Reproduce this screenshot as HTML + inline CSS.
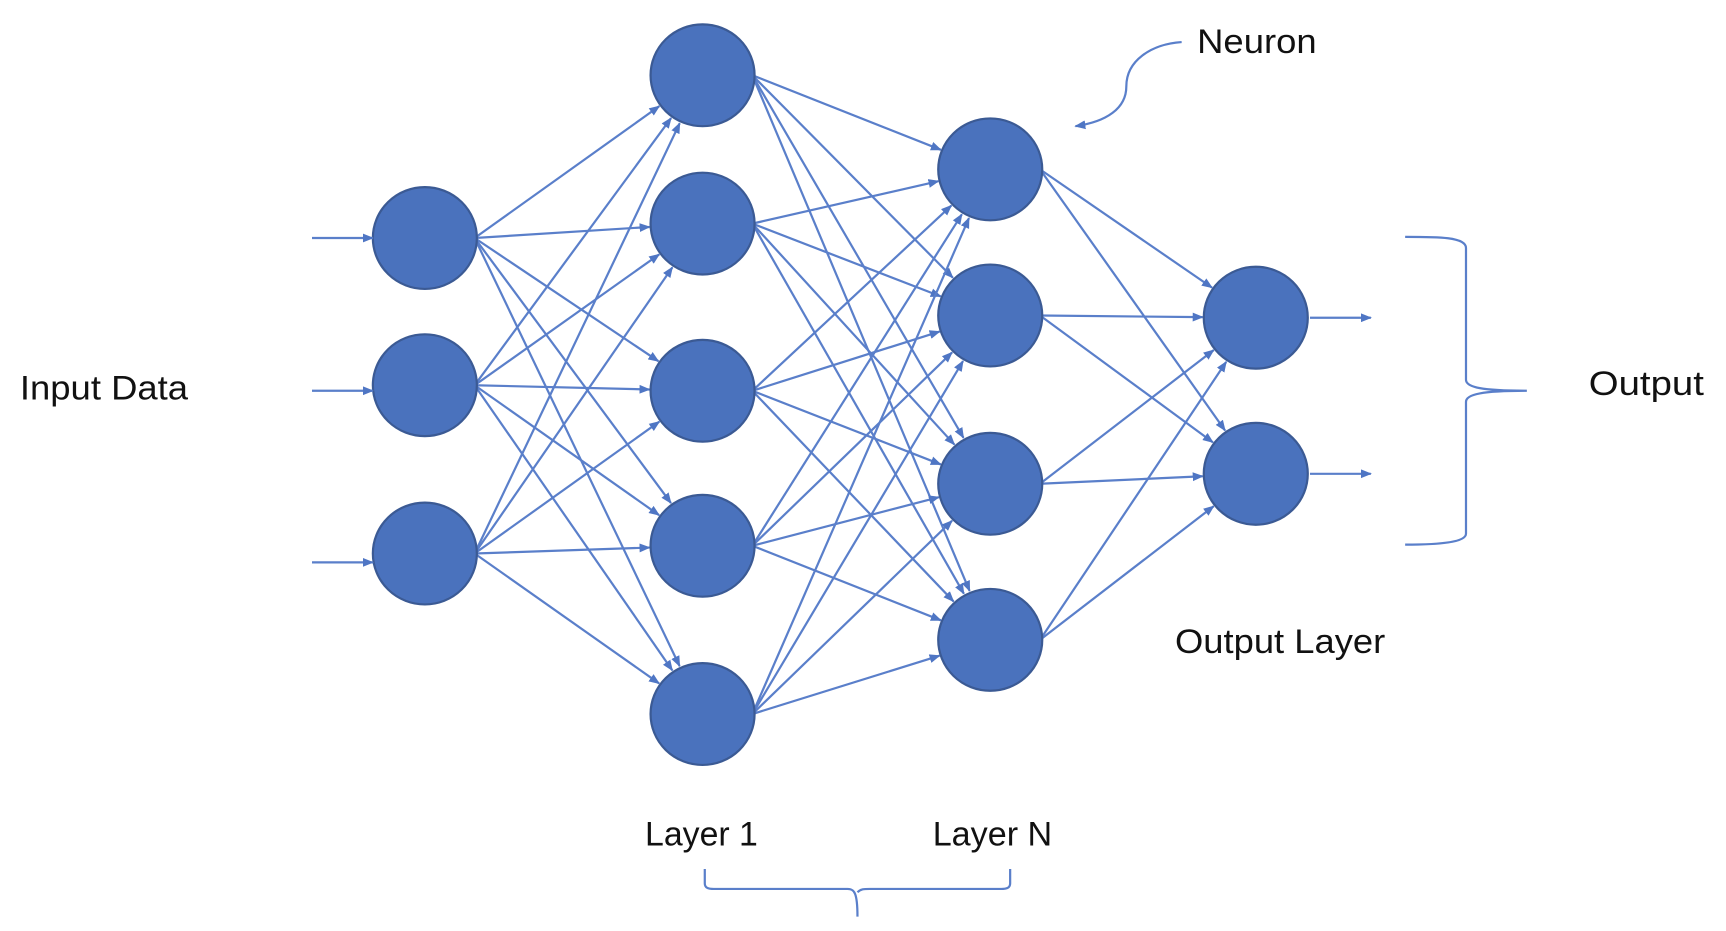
<!DOCTYPE html>
<html><head><meta charset="utf-8"><style>
html,body{margin:0;padding:0;background:#fff;}
svg{display:block;}
text{font-family:"Liberation Sans",sans-serif;font-size:31px;fill:#111;}
</style></head><body>
<svg id="s" width="1726" height="931" viewBox="0 0 1560 841" preserveAspectRatio="none" xmlns="http://www.w3.org/2000/svg">
<defs><marker id="a" markerWidth="10" markerHeight="10" refX="9" refY="5" orient="auto" markerUnits="userSpaceOnUse"><path d="M0,1 L10,5 L0,9 z" fill="#4f76c4"/></marker></defs>
<g id="edges" stroke="#5a7fca" stroke-width="2" fill="none"></g>
<g id="nodes" fill="#4a72bd" stroke="#3b5a94" stroke-width="2"></g>
<g stroke="#5a7fca" stroke-width="2" fill="none">
<line x1="282" y1="215" x2="337" y2="215" marker-end="url(#a)"/>
<line x1="282" y1="353" x2="337" y2="353" marker-end="url(#a)"/>
<line x1="282" y1="508" x2="337" y2="508" marker-end="url(#a)"/>
<line x1="1184" y1="287" x2="1239" y2="287" marker-end="url(#a)"/>
<line x1="1184" y1="428" x2="1239" y2="428" marker-end="url(#a)"/>
<path d="M1270,214 C1300,214 1325,214 1325,224 L1325,343 C1325,350 1340,353 1380,353 C1340,353 1325,356 1325,363 L1325,482 C1325,490 1300,492 1270,492"/>
<path d="M637,785 L637,798 C637,802 640,803 645,803 L766,803 C772,803 775,806 775,828 M775,806 C778,803 781,803 786,803 L905,803 C910,803 913,802 913,798 L913,785"/>
<path d="M1068,38 C1040,40 1018,55 1018,78 C1018,98 1000,110 972,114" marker-end="url(#a)"/>
</g>
<text x="18" y="361" textLength="152" lengthAdjust="spacingAndGlyphs">Input Data</text>
<text x="1082" y="48" textLength="108" lengthAdjust="spacingAndGlyphs">Neuron</text>
<text x="1436" y="357" textLength="104" lengthAdjust="spacingAndGlyphs">Output</text>
<text x="1062" y="590" textLength="190" lengthAdjust="spacingAndGlyphs">Output Layer</text>
<text x="583" y="764" textLength="102" lengthAdjust="spacingAndGlyphs">Layer 1</text>
<text x="843" y="764" textLength="108" lengthAdjust="spacingAndGlyphs">Layer N</text>
</svg>
<script>
var L=[[[384,215],[384,348],[384,500]],[[635,68],[635,202],[635,353],[635,493],[635,645]],[[895,153],[895,285],[895,437],[895,578]],[[1135,287],[1135,428]]];
var R=47,NS="http://www.w3.org/2000/svg";
var eg=document.getElementById('edges'),ng=document.getElementById('nodes');
for(var l=0;l<3;l++)for(var i=0;i<L[l].length;i++)for(var j=0;j<L[l+1].length;j++){
var s=L[l][i],t=L[l+1][j];
var x1=s[0]+R-2,y1=s[1];var dx=t[0]-x1,dy=t[1]-y1,d=Math.sqrt(dx*dx+dy*dy);
var x2=t[0]-dx/d*(R+1),y2=t[1]-dy/d*(R+1);
var e=document.createElementNS(NS,'line');e.setAttribute('x1',x1);e.setAttribute('y1',y1);e.setAttribute('x2',x2);e.setAttribute('y2',y2);e.setAttribute('marker-end','url(#a)');eg.appendChild(e);}
L.forEach(function(c){c.forEach(function(p){var e=document.createElementNS(NS,'ellipse');e.setAttribute('cx',p[0]);e.setAttribute('cy',p[1]);e.setAttribute('rx',47);e.setAttribute('ry',46);ng.appendChild(e);});});
</script>
</body></html>
